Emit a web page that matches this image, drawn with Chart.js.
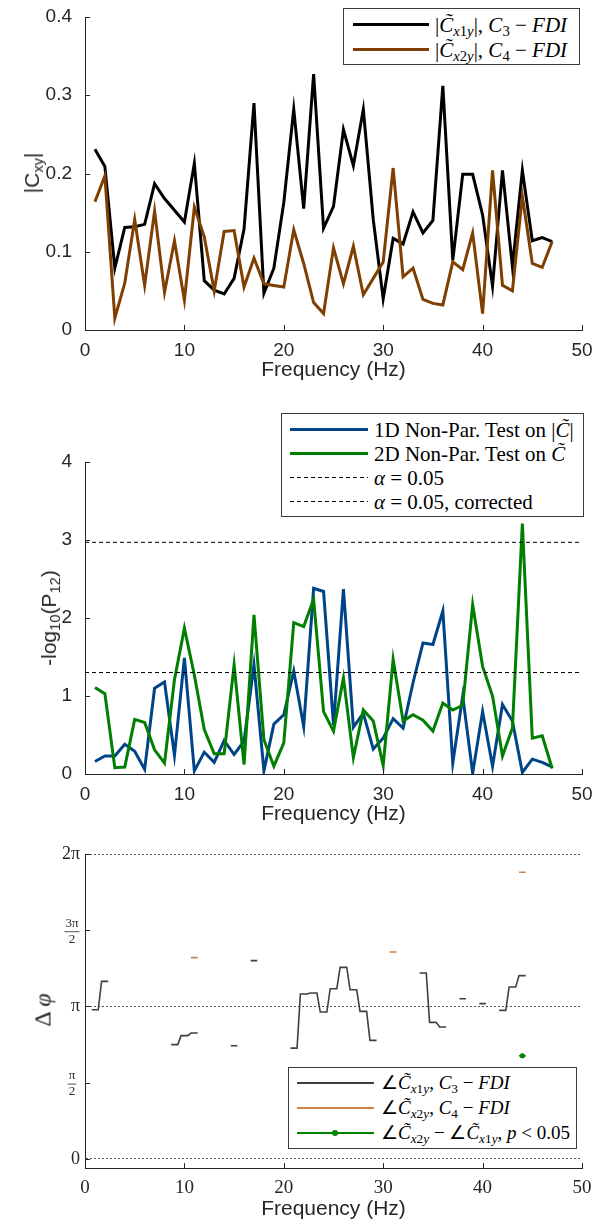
<!DOCTYPE html>
<html>
<head>
<meta charset="utf-8">
<script src="https://cdn.jsdelivr.net/npm/chart.js@4.4.1/dist/chart.umd.min.js"></script>
<style>
  body { margin: 0; background: #fff; width: 599px; height: 1222px; position: relative; overflow: hidden; }
  canvas { position: absolute; left: 0; }
  .leg { position: absolute; background: #fff; border: 1px solid #3a3a3a; box-sizing: border-box;
         font-family: "Liberation Serif", serif; font-size: 21px; color: #000; }
  .row { position: absolute; left: 0; right: 0; height: 24px; line-height: 24px; white-space: nowrap; }
  .sw { position: absolute; }
  .txt { position: absolute; top: 0; }
  sub { font-size: 0.7em; vertical-align: -0.3em; line-height: 0; }
  .ytitle { position: absolute; white-space: nowrap; transform: translate(-50%, -50%) rotate(-90deg);
            font-family: "Liberation Sans", Arial, sans-serif; font-size: 21px; color: #262626; }
</style>
</head>
<body>
<canvas id="c1" width="599" height="400" style="top:0"></canvas>
<canvas id="c2" width="599" height="430" style="top:400px"></canvas>
<canvas id="c3" width="599" height="392" style="top:830px"></canvas>

<div class="ytitle" style="left:32px;top:173px">|C<sub>xy</sub>|</div>
<div class="ytitle" style="left:49px;top:618px">-log<sub>10</sub>(P<sub>12</sub>)</div>
<div class="ytitle" style="left:43px;top:1010px;font-family:'Liberation Serif',serif;font-size:24px">&Delta; <i>&phi;</i></div>

<div class="leg" style="left:343px;top:8px;width:237px;height:57px">
  <div class="row" style="top:4px"><div class="sw" style="left:9px;width:76px;top:10px;height:3px;background:#000"></div>
    <span class="txt" style="left:91px">|<i>C&#771;</i><sub><i>x</i>1<i>y</i></sub>|, <i>C</i><sub>3</sub> &minus; <i>FDI</i></span></div>
  <div class="row" style="top:29px"><div class="sw" style="left:9px;width:76px;top:10px;height:3px;background:#7f3f00"></div>
    <span class="txt" style="left:91px">|<i>C&#771;</i><sub><i>x</i>2<i>y</i></sub>|, <i>C</i><sub>4</sub> &minus; <i>FDI</i></span></div>
</div>

<div class="leg" style="left:281px;top:413px;width:303px;height:104px">
  <div class="row" style="top:4px"><div class="sw" style="left:8px;width:78px;top:10px;height:3px;background:#004488"></div>
    <span class="txt" style="left:92px">1D Non-Par. Test on |<i>C&#771;</i>|</span></div>
  <div class="row" style="top:28px"><div class="sw" style="left:8px;width:78px;top:10px;height:3px;background:#007f00"></div>
    <span class="txt" style="left:92px">2D Non-Par. Test on <i>C&#771;</i></span></div>
  <div class="row" style="top:52px"><div class="sw" style="left:8px;width:78px;top:11px;height:1px;background:repeating-linear-gradient(to right,#000 0 4px,transparent 4px 7px)"></div>
    <span class="txt" style="left:92px"><i>&alpha;</i> = 0.05</span></div>
  <div class="row" style="top:76px"><div class="sw" style="left:8px;width:78px;top:11px;height:1px;background:repeating-linear-gradient(to right,#000 0 4px,transparent 4px 7px)"></div>
    <span class="txt" style="left:92px"><i>&alpha;</i> = 0.05, corrected</span></div>
</div>

<div class="leg" style="left:288px;top:1067px;width:289px;height:82px;font-size:19px">
  <div class="row" style="top:3px"><div class="sw" style="left:8px;width:77px;top:11px;height:2px;background:#404040"></div>
    <span class="txt" style="left:92px">&ang;<i>C&#771;</i><sub><i>x</i>1<i>y</i></sub>, <i>C</i><sub>3</sub> &minus; <i>FDI</i></span></div>
  <div class="row" style="top:28px"><div class="sw" style="left:8px;width:77px;top:11px;height:2px;background:#cc8447"></div>
    <span class="txt" style="left:92px">&ang;<i>C&#771;</i><sub><i>x</i>2<i>y</i></sub>, <i>C</i><sub>4</sub> &minus; <i>FDI</i></span></div>
  <div class="row" style="top:53px"><div class="sw" style="left:8px;width:77px;top:11px;height:2px;background:#008000"></div>
    <div class="sw" style="left:43px;top:9px;width:6px;height:6px;border-radius:3px;background:#008000"></div>
    <span class="txt" style="left:92px">&ang;<i>C&#771;</i><sub><i>x</i>2<i>y</i></sub> &minus; &ang;<i>C&#771;</i><sub><i>x</i>1<i>y</i></sub>, <i>p</i> &lt; 0.05</span></div>
</div>

<script>
// frequency bins (Hz)
var freqs = [1, 2, 3, 4, 5, 6, 7, 8, 9, 10, 11, 12, 13, 14, 15, 16, 17, 18, 19, 20, 21, 22, 23, 24,
  25, 26, 27, 28, 29, 30, 31, 32, 33, 34, 35, 36, 37, 38, 39, 40, 41, 42, 43, 44, 45, 46, 47];

// |C| coherence magnitudes
var cx1y = [0.231, 0.209, 0.079, 0.131, 0.132, 0.135, 0.187, 0.168, 0.153, 0.138,
  0.213, 0.063, 0.051, 0.046, 0.066, 0.129, 0.290, 0.047, 0.079, 0.163,
  0.282, 0.155, 0.327, 0.130, 0.158, 0.256, 0.210, 0.282, 0.141, 0.040,
  0.117, 0.110, 0.151, 0.124, 0.140, 0.312, 0.089, 0.199, 0.199, 0.147,
  0.056, 0.204, 0.081, 0.204, 0.114, 0.118, 0.113];
var cx2y = [0.164, 0.197, 0.015, 0.060, 0.141, 0.057, 0.152, 0.048, 0.114, 0.038,
  0.157, 0.119, 0.050, 0.126, 0.127, 0.055, 0.092, 0.059, 0.057, 0.055,
  0.128, 0.085, 0.035, 0.021, 0.105, 0.059, 0.107, 0.045, 0.066, 0.087,
  0.207, 0.068, 0.079, 0.039, 0.034, 0.032, 0.087, 0.077, 0.124, 0.021,
  0.204, 0.057, 0.050, 0.171, 0.085, 0.080, 0.113];

// -log10(p) of the two tests
var test1d = [0.16, 0.23, 0.23, 0.38, 0.29, 0.06, 1.10, 1.18, 0.24, 1.49,
  0.04, 0.28, 0.15, 0.43, 0.25, 0.42, 1.40, 0.04, 0.64, 0.76,
  1.32, 0.61, 2.38, 2.34, 0.63, 2.37, 0.60, 0.78, 0.32, 0.46,
  0.71, 0.59, 1.17, 1.68, 1.66, 2.09, 0.14, 1.00, 0.01, 0.80,
  0.10, 0.89, 0.68, 0.02, 0.19, 0.15, 0.09];
var test2d = [1.11, 1.03, 0.08, 0.09, 0.70, 0.66, 0.31, 0.14, 1.21, 1.87,
  1.27, 0.57, 0.26, 0.26, 1.40, 0.12, 2.04, 0.44, 0.10, 0.40,
  1.94, 1.89, 2.24, 0.80, 0.55, 1.23, 0.21, 0.82, 0.68, 0.11,
  1.47, 0.68, 0.76, 0.69, 0.55, 0.91, 0.82, 0.88, 2.17, 1.38,
  1.00, 0.23, 0.59, 3.21, 0.46, 0.49, 0.07];
var alpha = 1.301;
var alphaCorrected = 2.97;

// phase angles, in units of pi (null = not significant)
var phaseX1 = [0.978, 1.164, null, null, null, null, null, null, 0.749, 0.808,
  0.825, null, null, null, 0.742, null, 1.30, null, null, null,
  0.726, 1.081, 1.088, 0.963, 1.116, 1.256, 1.109, 0.967, 0.777, null,
  null, null, null, 1.219, 0.895, 0.865, null, 1.05, null, 1.018,
  null, 0.974, 1.127, 1.202, null, null, null];
var phaseX2 = [null, null, null, null, null, null, null, null, null, null,
  1.32, null, null, null, null, null, null, null, null, null,
  null, null, null, null, null, null, null, null, null, null,
  1.357, null, null, null, null, null, null, null, null, null,
  null, null, null, 1.88, null, null, null];
var phaseDiff = [null, null, null, null, null, null, null, null, null, null,
  null, null, null, null, null, null, null, null, null, null,
  null, null, null, null, null, null, null, null, null, null,
  null, null, null, null, null, null, null, null, null, null,
  null, null, null, 0.676, null, null, null];

var axisColor = "#262626";
var sans = '"Liberation Sans", Arial, sans-serif';
var serif = '"Liberation Serif", serif';

function xy(vals) {
  return freqs.map(function (f, i) { return { x: f, y: vals[i] }; });
}

// each bin drawn as a short level +-1/3 Hz around its frequency
function stairs(vals) {
  var pts = [];
  vals.forEach(function (v, i) {
    if (v === null) {
      if (pts.length && pts[pts.length - 1].y !== null) pts.push({ x: freqs[i], y: null });
      return;
    }
    pts.push({ x: freqs[i] - 1 / 3, y: v * Math.PI }, { x: freqs[i] + 1 / 3, y: v * Math.PI });
  });
  return pts;
}

function dot(vals) {
  var pts = [];
  vals.forEach(function (v, i) {
    if (v === null) return;
    pts.push({ x: freqs[i] - 1 / 3, y: v * Math.PI }, { x: freqs[i], y: v * Math.PI }, { x: freqs[i] + 1 / 3, y: v * Math.PI });
  });
  return pts;
}

// MATLAB style ticks pointing into the axes
var inTicks = {
  id: "inTicks",
  afterDraw: function (chart) {
    var ctx = chart.ctx, a = chart.chartArea;
    var x = chart.scales.x, y = chart.scales.y;
    ctx.save();
    ctx.strokeStyle = axisColor;
    ctx.lineWidth = 1;
    ctx.beginPath();
    x.ticks.forEach(function (t) {
      var px = Math.round(x.getPixelForValue(t.value)) + 0.5;
      ctx.moveTo(px, a.bottom);
      ctx.lineTo(px, a.bottom - 5);
    });
    y.ticks.forEach(function (t) {
      var py = Math.round(y.getPixelForValue(t.value)) + 0.5;
      ctx.moveTo(a.left, py);
      ctx.lineTo(a.left + 5, py);
    });
    ctx.stroke();
    ctx.restore();
  },
};

// pi fractions on the phase axis
var piFractions = {
  id: "piFractions",
  afterDraw: function (chart) {
    var ctx = chart.ctx, y = chart.scales.y;
    var cx = chart.chartArea.left - 13;
    [[1, 0.5], [3, 1.5]].forEach(function (p) {
      var py = y.getPixelForValue(p[1] * Math.PI);
      var num = (p[0] === 1 ? "" : p[0]) + "\u03c0";
      ctx.save();
      ctx.fillStyle = axisColor;
      ctx.strokeStyle = axisColor;
      ctx.font = "13px " + serif;
      ctx.textAlign = "center";
      ctx.textBaseline = "middle";
      ctx.fillText(num, cx, py - 7);
      ctx.fillText("2", cx, py + 9);
      var w = ctx.measureText(num).width + 2;
      ctx.lineWidth = 0.8;
      ctx.beginPath();
      ctx.moveTo(cx - w / 2, py + 1.5);
      ctx.lineTo(cx + w / 2, py + 1.5);
      ctx.stroke();
      ctx.restore();
    });
  },
};

function xScale(height, titlePad, tickFont) {
  return {
    type: "linear",
    min: 0,
    max: 50,
    afterFit: function (s) { s.height = height; },
    ticks: { stepSize: 10, color: axisColor, font: tickFont, padding: 1, maxRotation: 0 },
    grid: { display: false },
    border: { color: axisColor, width: 1 },
    title: { display: true, text: "Frequency (Hz)", color: axisColor,
      font: { family: sans, size: 21 }, padding: { top: 0, bottom: titlePad } },
  };
}

function baseOptions(top, xs, ys) {
  return {
    responsive: false,
    animation: false,
    events: [],
    layout: { padding: { top: top, right: 17, left: 0, bottom: 0 } },
    plugins: { legend: { display: false }, tooltip: { enabled: false } },
    elements: { point: { radius: 0 }, line: { borderJoinStyle: "miter" } },
    scales: { x: xs, y: ys },
  };
}

new Chart(document.getElementById("c1"), {
  type: "line",
  data: {
    datasets: [
      { label: "|C x1y|, C3 - FDI", data: xy(cx1y), borderColor: "#000000", borderWidth: 3, order: 2 },
      { label: "|C x2y|, C4 - FDI", data: xy(cx2y), borderColor: "#7f3f00", borderWidth: 3, order: 1 },
    ],
  },
  options: baseOptions(17, xScale(70, 17, { family: sans, size: 19 }), {
    min: 0,
    max: 0.4,
    afterFit: function (s) { s.width = 85; },
    ticks: { stepSize: 0.1, color: axisColor, font: { family: sans, size: 19 }, padding: 5 },
    grid: { display: false },
    border: { color: axisColor, width: 1 },
  }),
  plugins: [inTicks],
});

new Chart(document.getElementById("c2"), {
  type: "line",
  data: {
    datasets: [
      { label: "1D Non-Par. Test", data: xy(test1d), borderColor: "#004488", borderWidth: 3, order: 3 },
      { label: "2D Non-Par. Test", data: xy(test2d), borderColor: "#007f00", borderWidth: 3, order: 2 },
      { label: "alpha = 0.05", data: [{ x: 0, y: alpha }, { x: 50, y: alpha }], borderColor: "#000", borderWidth: 1, borderDash: [4, 3], order: 1 },
      { label: "alpha = 0.05, corrected", data: [{ x: 0, y: alphaCorrected }, { x: 50, y: alphaCorrected }], borderColor: "#000", borderWidth: 1, borderDash: [4, 3], order: 1 },
    ],
  },
  options: baseOptions(62, xScale(56, 3, { family: sans, size: 19 }), {
    min: 0,
    max: 4,
    afterFit: function (s) { s.width = 85; },
    ticks: { stepSize: 1, color: axisColor, font: { family: sans, size: 19 }, padding: 5 },
    grid: { display: false },
    border: { color: axisColor, width: 1 },
  }),
  plugins: [inTicks],
});

new Chart(document.getElementById("c3"), {
  type: "line",
  data: {
    datasets: [
      { label: "angle C x1y", data: stairs(phaseX1), borderColor: "#404040", borderWidth: 1.6, spanGaps: false },
      { label: "angle C x2y", data: stairs(phaseX2), borderColor: "#cc8447", borderWidth: 1.6, spanGaps: false },
      { label: "angle diff p<0.05", data: dot(phaseDiff), borderColor: "#008000", backgroundColor: "#008000",
        borderWidth: 1.6, pointRadius: [0, 2.6, 0], pointBorderWidth: 0 },
    ],
  },
  options: baseOptions(24, xScale(54, 0, { family: serif, size: 19 }), {
    min: -0.19,
    max: 2 * Math.PI,
    afterFit: function (s) { s.width = 85; },
    afterBuildTicks: function (s) {
      s.ticks = [0, 0.5, 1, 1.5, 2].map(function (k) { return { value: k * Math.PI }; });
    },
    ticks: {
      color: axisColor,
      font: { family: serif, size: 18 },
      padding: 5,
      callback: function (v) {
        if (Math.abs(v) < 1e-6) return "0";
        if (Math.abs(v - Math.PI) < 1e-6) return "\u03c0";
        if (Math.abs(v - 2 * Math.PI) < 1e-6) return "2\u03c0";
        return "";
      },
    },
    grid: {
      drawTicks: false,
      lineWidth: 1,
      color: function (c) {
        var v = c.tick ? c.tick.value : 0;
        return Math.abs(v / Math.PI - Math.round(v / Math.PI)) < 1e-6 ? "#555555" : "rgba(0,0,0,0)";
      },
    },
    border: { color: axisColor, width: 1, dash: [2, 2] },
  }),
  plugins: [inTicks, piFractions],
});
</script>
</body>
</html>
